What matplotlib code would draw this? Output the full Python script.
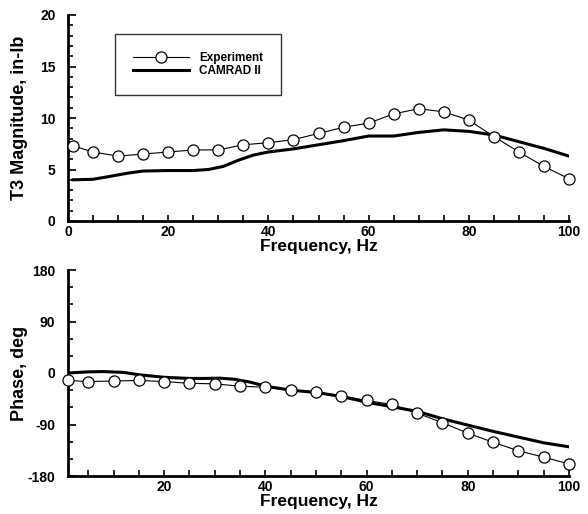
import numpy as np
import matplotlib.pyplot as plt
from matplotlib.ticker import MultipleLocator

plt.rcParams['font.family'] = ['Liberation Sans', 'DejaVu Sans']
plt.rcParams['font.weight'] = 'bold'
plt.rcParams['axes.unicode_minus'] = False

# Experiment data
exp_freq = [1, 5, 10, 15, 20, 25, 30, 35, 40, 45, 50, 55, 60, 65, 70, 75, 80, 85, 90, 95, 100]
exp_mag = [7.3, 6.7, 6.3, 6.5, 6.7, 6.9, 6.9, 7.4, 7.6, 7.9, 8.5, 9.1, 9.5, 10.4, 10.9, 10.6, 9.8, 8.2, 6.7, 5.3, 4.1]
exp_phase = [-13, -15, -14, -13, -15, -18, -19, -23, -25, -30, -33, -40, -48, -55, -70, -87, -105, -121, -136, -147, -159]

# CAMRAD II prediction
cam_freq = [1, 5, 8, 12, 15, 20, 25, 28, 31, 34, 37, 40, 45, 50, 55, 60, 65, 70, 75, 80, 85, 90, 95, 100]
cam_mag = [4.0, 4.05, 4.3, 4.65, 4.85, 4.9, 4.9, 5.0, 5.3, 5.9, 6.4, 6.7, 7.0, 7.4, 7.8, 8.25, 8.25, 8.6, 8.85, 8.7, 8.35, 7.7, 7.05, 6.3]
cam_phase = [0, 2, 2.5, 1, -3, -7.5, -9.5, -9.5, -9, -11, -16, -23, -30, -34, -41, -51, -59, -67, -80, -91, -102, -112, -122, -129]

fig = plt.figure(figsize=(5.88, 5.14), dpi=100)
ax1 = fig.add_axes([68/588, 1-221/514, 501/588, 206/514])
ax2 = fig.add_axes([68/588, 1-476/514, 501/588, 206/514])

for ax, e, c in ((ax1, exp_mag, cam_mag), (ax2, exp_phase, cam_phase)):
    ax.plot(exp_freq, e, color='black', lw=0.8, marker='o', ms=8, mfc='white',
            mec='black', mew=0.9, label='Experiment', zorder=3, clip_on=False)
    ax.plot(cam_freq, c, color='black', lw=2.2, label='CAMRAD II', zorder=2)
    for s in ('top', 'right'):
        ax.spines[s].set_visible(False)
    for s in ('left', 'bottom'):
        ax.spines[s].set_linewidth(2)
    ax.tick_params(which='both', direction='in', width=1.2, labelsize=10)
    ax.tick_params(axis='y', which='major', length=6, pad=9)
    ax.tick_params(axis='y', which='minor', length=3.6)
    ax.tick_params(axis='x', which='both', length=4, pad=3)
    ax.xaxis.set_major_locator(MultipleLocator(20))
    ax.xaxis.set_minor_locator(MultipleLocator(5))
    ax.set_xlabel('Frequency, Hz', fontsize=12.5, fontweight='bold', va='top')
    ax.xaxis.set_label_coords(0.5, -0.085)

ax1.set_xlim(0, 100)
ax1.set_ylim(0, 20)
ax1.yaxis.set_major_locator(MultipleLocator(5))
ax1.yaxis.set_minor_locator(MultipleLocator(1))
ax1.set_ylabel('T3 Magnitude, in-lb', fontsize=13, fontweight='bold')
ax1.yaxis.set_label_coords(-0.08, 0.5)

ax2.set_xlim(1, 100)
ax2.set_ylim(-180, 180)
ax2.yaxis.set_major_locator(MultipleLocator(90))
ax2.yaxis.set_minor_locator(MultipleLocator(30))
ax2.set_ylabel('Phase, deg', fontsize=13, fontweight='bold')
ax2.yaxis.set_label_coords(-0.08, 0.5)

leg = ax1.legend(loc='upper left', bbox_to_anchor=(47/501, 1-19/206), borderaxespad=0,
                 fontsize=8.5, frameon=True, fancybox=False, edgecolor='black',
                 handlelength=4.8, handletextpad=0.85, borderpad=1.5, labelspacing=0.15)
leg.get_frame().set_linewidth(1)

fig.savefig('out.png', dpi=100)
